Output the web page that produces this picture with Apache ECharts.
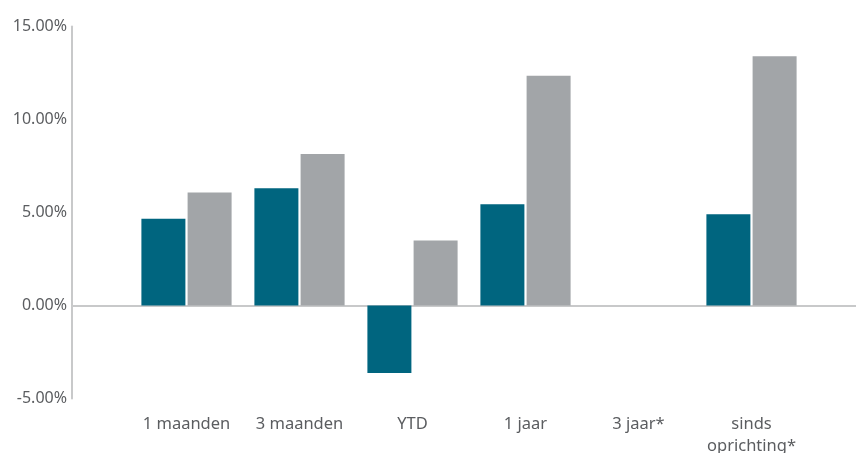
<!DOCTYPE html>
<html>
<head>
<meta charset="utf-8">
<script src="https://cdn.jsdelivr.net/npm/echarts@6/dist/echarts.min.js"></script>
<style>
html,body{margin:0;padding:0;background:#fff;}
#chart{width:856px;height:453px;}
</style>
</head>
<body>
<div id="chart"></div>
<script>
const categories = ['1 maanden', '3 maanden', 'YTD', '1 jaar', '3 jaar*', 'sinds\noprichting*'];
const fundValues = [4.67, 6.30, -3.63, 5.44, null, 4.90];
const benchmarkValues = [6.07, 8.14, 3.49, 12.35, null, 13.40];
const yMin = -5, yMax = 15, yStep = 5;

const chart = echarts.init(document.getElementById('chart'), null, {renderer: 'canvas'});
const font = 'Noto Sans';
const textColor = '#5b5d60';
const axisColor = '#c8c9ca';

chart.setOption({
  animation: false,
  backgroundColor: '#ffffff',
  grid: [
    {left: 130, right: 48, top: 26.5, bottom: 54.5, outerBoundsMode: 'none', containLabel: false},
    {left: 72, right: 0, top: 26.5, bottom: 54.5, outerBoundsMode: 'none', containLabel: false}
  ],
  xAxis: [
    {
      type: 'category', gridIndex: 0, data: categories,
      axisLine: {show: false, onZero: false},
      axisTick: {show: false},
      axisLabel: {color: textColor, fontFamily: font, fontSize: 16.5, margin: 15, lineHeight: 22, interval: 0}
    },
    {
      type: 'value', gridIndex: 1, min: 0, max: 1,
      axisLine: {show: true, onZero: true, lineStyle: {color: axisColor, width: 2}},
      axisTick: {show: false}, axisLabel: {show: false}, splitLine: {show: false}
    }
  ],
  yAxis: [
    {type: 'value', gridIndex: 0, min: yMin, max: yMax, interval: yStep, show: false, splitLine: {show: false}},
    {
      type: 'value', gridIndex: 1, min: yMin, max: yMax, interval: yStep,
      axisLine: {show: true, lineStyle: {color: axisColor, width: 2}},
      axisTick: {show: false},
      splitLine: {show: false},
      axisLabel: {color: textColor, fontFamily: font, fontSize: 16, margin: 5,
        formatter: v => v.toFixed(2) + '%'}
    }
  ],
  series: [
    {type: 'bar', xAxisIndex: 0, yAxisIndex: 0, data: fundValues, barWidth: 44, barGap: '5%',
      itemStyle: {color: '#00657f'}},
    {type: 'bar', xAxisIndex: 0, yAxisIndex: 0, data: benchmarkValues, barWidth: 44, barGap: '5%',
      itemStyle: {color: '#a2a5a8'}}
  ]
});
</script>
</body>
</html>
